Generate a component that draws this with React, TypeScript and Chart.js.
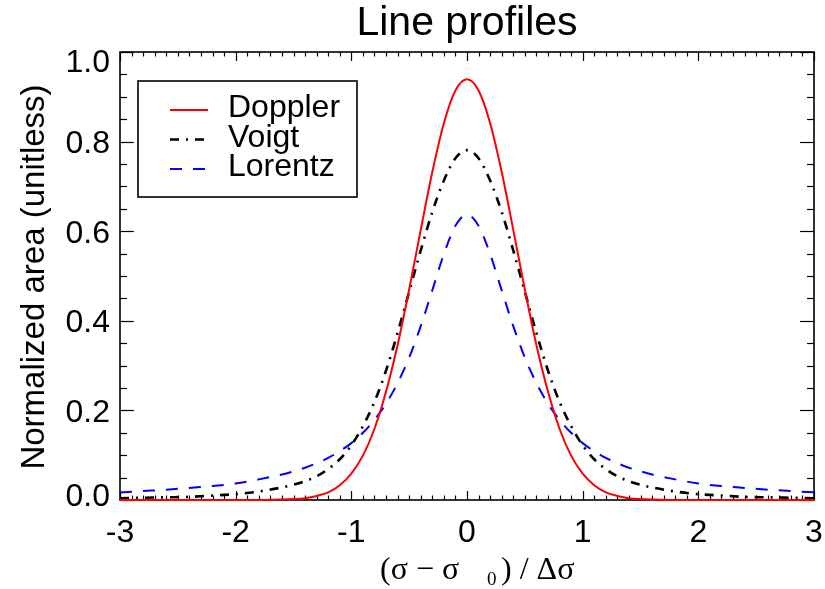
import { useEffect, useRef } from "react";
import { Chart, registerables } from "chart.js";

Chart.register(...registerables);

// Offset from line centre, in units of the Doppler width
const offsets = [
  -3.0, -2.8, -2.6, -2.4, -2.2, -2.0, -1.8, -1.6, -1.5, -1.4, -1.3, -1.2, -1.1, -1.0, -0.9, -0.8,
  -0.7, -0.6, -0.5, -0.4, -0.3, -0.2, -0.1, 0.0, 0.1, 0.2, 0.3, 0.4, 0.5, 0.6, 0.7, 0.8, 0.9, 1.0,
  1.1, 1.2, 1.3, 1.4, 1.5, 1.6, 1.8, 2.0, 2.2, 2.4, 2.6, 2.8, 3.0,
];

const doppler = [
  0, 0, 0, 0, 0, 0, 0, 0.001, 0.002, 0.004, 0.009, 0.017, 0.033, 0.059, 0.099, 0.159,
  0.242, 0.346, 0.47, 0.603, 0.732, 0.841, 0.914, 0.939, 0.914, 0.841, 0.732, 0.603, 0.47, 0.346, 0.242, 0.159, 0.099, 0.059,
  0.033, 0.017, 0.009, 0.004, 0.002, 0.001, 0, 0, 0, 0, 0, 0, 0,
];

const voigt = [
  0.004, 0.005, 0.006, 0.007, 0.01, 0.013, 0.019, 0.028, 0.034, 0.042, 0.053, 0.069, 0.091, 0.122, 0.165, 0.219,
  0.289, 0.373, 0.465, 0.557, 0.643, 0.713, 0.763, 0.781, 0.763, 0.713, 0.643, 0.557, 0.465, 0.373, 0.289, 0.219, 0.165, 0.122,
  0.091, 0.069, 0.053, 0.042, 0.034, 0.028, 0.019, 0.013, 0.01, 0.007, 0.006, 0.005, 0.004,
];

const lorentz = [
  0.017, 0.02, 0.023, 0.027, 0.031, 0.037, 0.046, 0.057, 0.064, 0.072, 0.082, 0.094, 0.109, 0.127, 0.15, 0.179,
  0.215, 0.261, 0.318, 0.388, 0.468, 0.549, 0.612, 0.637, 0.612, 0.549, 0.468, 0.388, 0.318, 0.261, 0.215, 0.179, 0.15, 0.127,
  0.109, 0.094, 0.082, 0.072, 0.064, 0.057, 0.046, 0.037, 0.031, 0.027, 0.023, 0.02, 0.017,
];

const seriesNames = ["Doppler", "Voigt", "Lorentz"];
const xTickValues = [-3, -2, -1, 0, 1, 2, 3];
const xTickLabels = ["-3", "-2", "-1", "0", "1", "2", "3"];
const yTickValues = [0, 0.2, 0.4, 0.6, 0.8, 1.0];
const yTickLabels = ["0.0", "0.2", "0.4", "0.6", "0.8", "1.0"];
const chartTitle = "Line profiles";
const yTitle = "Normalized area (unitless)";

const INK = "#000000";
const SANS = '"Liberation Sans", Arial, Helvetica, sans-serif';
const SERIF = '"Liberation Serif", "Times New Roman", serif';

function seg(ctx: CanvasRenderingContext2D, x1: number, y1: number, x2: number, y2: number) {
  ctx.beginPath();
  ctx.moveTo(x1, y1);
  ctx.lineTo(x2, y2);
  ctx.stroke();
}

// Box frame with inward major/minor ticks on all four sides, plus all text
const framePlugin = {
  id: "profileFrame",
  beforeDatasetsDraw(chart: any) {
    const { ctx, chartArea: a, scales } = chart;
    const xs = scales.x;
    const ys = scales.y;
    const w = a.right - a.left;
    const h = a.bottom - a.top;
    const xLen = 0.02 * h;
    const yLen = 0.02 * w;
    ctx.save();
    ctx.strokeStyle = INK;
    ctx.lineWidth = 1.2;
    // x ticks every 0.1, major every 1
    for (let i = 0; i <= 60; i++) {
      const px = Math.round(xs.getPixelForValue(-3 + i * 0.1)) + 0.5;
      const len = i % 10 === 0 ? xLen : xLen / 2;
      seg(ctx, px, a.bottom, px, a.bottom - len);
      seg(ctx, px, a.top, px, a.top + len);
    }
    // y ticks every 0.05, major every 0.2
    for (let i = 0; i <= 20; i++) {
      const py = Math.round(ys.getPixelForValue(i * 0.05)) + 0.5;
      const len = i % 4 === 0 ? yLen : yLen / 2;
      seg(ctx, a.left, py, a.left + len, py);
      seg(ctx, a.right, py, a.right - len, py);
    }
    ctx.lineWidth = 1.6;
    ctx.strokeRect(a.left, a.top, w, h);
    ctx.restore();
  },
  afterDraw(chart: any) {
    const { ctx, chartArea: a, scales } = chart;
    const xs = scales.x;
    const ys = scales.y;
    ctx.save();
    ctx.fillStyle = INK;

    // tick labels
    ctx.font = `32px ${SANS}`;
    ctx.textBaseline = "alphabetic";
    ctx.textAlign = "center";
    xTickValues.forEach((v, i) => {
      ctx.fillText(xTickLabels[i], xs.getPixelForValue(v), a.bottom + 42);
    });
    ctx.textAlign = "right";
    yTickValues.forEach((v, i) => {
      let cy = ys.getPixelForValue(v);
      if (i === 0) cy -= 6;
      if (i === yTickValues.length - 1) cy += 8;
      ctx.fillText(yTickLabels[i], a.left - 10, cy + 11.5);
    });

    // title
    ctx.textAlign = "center";
    ctx.font = `41px ${SANS}`;
    ctx.fillText(chartTitle, (a.left + a.right) / 2, 35);

    // y axis title
    ctx.save();
    ctx.translate(44, (a.top + a.bottom) / 2 + 1);
    ctx.rotate(-Math.PI / 2);
    ctx.font = `33px ${SANS}`;
    ctx.fillText(yTitle, 0, 0);
    ctx.restore();

    // x axis title: (σ − σ₀) / Δσ
    ctx.textAlign = "left";
    ctx.font = `32px ${SERIF}`;
    ctx.fillText("(\u03C3 \u2212 \u03C3", 380, 579);
    ctx.font = `19px ${SERIF}`;
    ctx.fillText("0", 487, 585);
    ctx.font = `32px ${SERIF}`;
    ctx.fillText(") / \u0394\u03C3", 501, 579);

    // legend
    const box = { x: 138, y: 81, w: 219, h: 116 };
    ctx.strokeStyle = INK;
    ctx.lineWidth = 1.6;
    ctx.strokeRect(box.x, box.y, box.w, box.h);
    ctx.font = `32px ${SANS}`;
    chart.data.datasets.forEach((ds: any, i: number) => {
      const ly = 110 + i * 29.5;
      ctx.save();
      ctx.strokeStyle = ds.borderColor;
      ctx.lineWidth = ds.borderWidth;
      ctx.setLineDash(ds.borderDash || []);
      seg(ctx, 170, ly, 208, ly);
      ctx.restore();
      ctx.fillText(ds.label, 228, ly + 7);
    });
    ctx.restore();
  },
};

export default function App() {
  const ref = useRef<HTMLCanvasElement | null>(null);

  useEffect(() => {
    if (!ref.current) return;
    const pts = (ys: number[]) => offsets.map((x, i) => ({ x, y: ys[i] }));
    const common = {
      pointRadius: 0,
      fill: false,
      cubicInterpolationMode: "monotone" as const,
      clip: 4,
    };
    const chart = new Chart(ref.current, {
      type: "line",
      data: {
        datasets: [
          { label: seriesNames[0], data: pts(doppler), borderColor: "#ff0000", borderWidth: 2, ...common },
          { label: seriesNames[1], data: pts(voigt), borderColor: "#000000", borderWidth: 2.6, borderDash: [9, 7, 2, 7], ...common },
          { label: seriesNames[2], data: pts(lorentz), borderColor: "#0000ff", borderWidth: 2, borderDash: [12, 11], ...common },
        ],
      },
      options: {
        responsive: false,
        animation: false,
        devicePixelRatio: 1,
        layout: { padding: { left: 120, right: 11, top: 52, bottom: 89 } },
        scales: {
          x: { type: "linear", min: -3, max: 3, display: false },
          y: { type: "linear", min: 0, max: 1, display: false },
        },
        plugins: {
          legend: { display: false },
          title: { display: false },
          tooltip: { enabled: false },
        },
      },
      plugins: [framePlugin],
    });
    return () => chart.destroy();
  }, []);

  return (
    <div style={{ position: "fixed", left: 0, top: 0, width: 825, height: 589, background: "#fff" }}>
      <canvas ref={ref} width={825} height={589} style={{ display: "block", width: 825, height: 589 }} />
    </div>
  );
}
